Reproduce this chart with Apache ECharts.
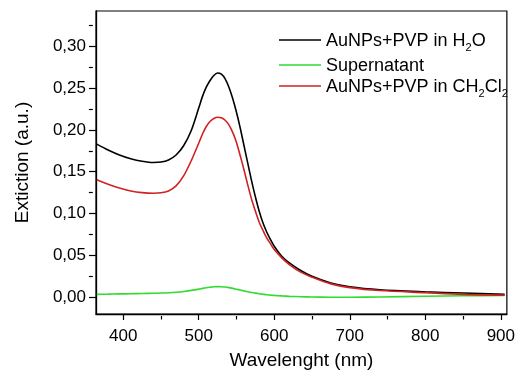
<!DOCTYPE html>
<html>
<head>
<meta charset="utf-8">
<script src="https://cdn.jsdelivr.net/npm/echarts@6/dist/echarts.min.js"></script>
<style>
html,body{margin:0;padding:0;background:#fff;}
#chart{width:518px;height:375px;}
</style>
</head>
<body>
<div id="chart"></div>
<script>
// Wavelengths (nm)
const wavelengths = [365,380,395,410,425,440,450,460,470,480,490,500,505,510,515,520,525,530,535,540,545,550,555,560,565,570,575,580,585,590,595,600,610,620,635,650,675,700,740,800,850,905];
// AuNPs+PVP in H2O
const h2o = [0.183,0.176,0.170,0.1655,0.1625,0.161,0.1615,0.164,0.170,0.181,0.199,0.226,0.240,0.251,0.259,0.265,0.268,0.2665,0.261,0.251,0.2375,0.221,0.202,0.181,0.160,0.139,0.120,0.103,0.089,0.078,0.069,0.061,0.049,0.041,0.032,0.025,0.017,0.0125,0.009,0.0065,0.005,0.0035];
// Supernatant
const supernatant = [0.0035,0.0037,0.004,0.0042,0.0045,0.0048,0.005,0.0054,0.006,0.0069,0.0082,0.0097,0.0106,0.0114,0.012,0.0125,0.0127,0.0126,0.0122,0.0115,0.0106,0.0096,0.0086,0.0076,0.0066,0.0057,0.0049,0.0042,0.0036,0.003,0.0026,0.0022,0.0016,0.0011,0.0006,0.0003,0.0001,0.0001,0.0003,0.0012,0.0018,0.0022];
// AuNPs+PVP in CH2Cl2
const ch2cl2 = [0.1405,0.135,0.1305,0.127,0.125,0.1243,0.1248,0.127,0.133,0.145,0.163,0.184,0.195,0.204,0.210,0.2135,0.215,0.2145,0.2115,0.206,0.197,0.185,0.169,0.152,0.134,0.117,0.103,0.090,0.080,0.071,0.064,0.057,0.047,0.039,0.030,0.024,0.016,0.0115,0.008,0.0055,0.0035,0.0025];

const xTicks = [400,500,600,700,800,900];
const xMinor = [450,550,650,750,850];
const yTicks = [0,0.05,0.10,0.15,0.20,0.25,0.30];
const yMinor = [0.025,0.075,0.125,0.175,0.225,0.275,0.325];

const seriesNames = ['AuNPs+PVP in H2O','Supernatant','AuNPs+PVP in CH2Cl2'];
const seriesColors = ['#000000','#2fdc2f','#d02222'];
const legendLabels = {
  'AuNPs+PVP in H2O': '{n|AuNPs+PVP in H}{s|2}{n|O}',
  'Supernatant': '{n|Supernatant}',
  'AuNPs+PVP in CH2Cl2': '{n|AuNPs+PVP in CH}{s|2}{n|Cl}{s|2}'
};

const FONT = '"Liberation Sans", Arial, sans-serif';
const pairs = arr => wavelengths.map((w,i)=>[w,arr[i]]);
const fmt = v => v.toFixed(2).replace('.', ',');

const chart = echarts.init(document.getElementById('chart'), null, {renderer:'canvas'});

const legendRich = {
  n: {fontSize: 18, fontFamily: FONT, color: '#000', lineHeight: 20, verticalAlign: 'bottom'},
  s: {fontSize: 11, fontFamily: FONT, color: '#000', lineHeight: 20, verticalAlign: 'bottom', padding: [0,0,-3,0]}
};
const legendTops = [32, 57, 78];
const legends = seriesNames.map((name, i) => ({
  data: [{name: name, icon: 'rect', itemStyle: {color: seriesColors[i]}}],
  left: 279,
  top: legendTops[i],
  orient: 'vertical',
  itemWidth: 42,
  itemHeight: 1.6,
  padding: 0,
  selectedMode: false,
  formatter: n => legendLabels[n],
  textStyle: {rich: legendRich, fontFamily: FONT, fontSize: 18}
}));

const gridBox = {left: 96, top: 11, right: 8, bottom: 59};
const gridHeight = 375 - gridBox.top - gridBox.bottom;
const gridWidth = 518 - gridBox.left - gridBox.right;

chart.setOption({
  animation: false,
  backgroundColor: '#fff',
  legend: legends,
  grid: [Object.assign({show: true, borderColor: '#000', borderWidth: 1.2, backgroundColor: 'transparent'}, gridBox)],
  xAxis: [{
    type: 'value', min: 364, max: 908, position: 'bottom',
    name: 'Wavelenght (nm)', nameLocation: 'middle', nameGap: 37,
    nameTextStyle: {fontSize: 19, fontFamily: FONT, color: '#000'},
    axisLine: {show: true, onZero: false, lineStyle: {color: '#000', width: 1.3}},
    axisTick: {show: true, inside: false, length: 6, customValues: xTicks, lineStyle: {color: '#000', width: 1.2}},
    axisLabel: {customValues: xTicks, fontSize: 17, fontFamily: FONT, color: '#000', margin: 14},
    splitLine: {show: false}
  }, {
    // minor ticks: a top axis shifted down onto the bottom edge
    type: 'value', min: 364, max: 908, position: 'top', offset: -gridHeight,
    axisLine: {show: false, onZero: false},
    axisTick: {show: true, inside: true, length: 3.5, customValues: xMinor, lineStyle: {color: '#000', width: 1.2}},
    axisLabel: {show: false},
    splitLine: {show: false}
  }],
  yAxis: [{
    type: 'value', min: -0.02, max: 0.342, position: 'left',
    name: 'Extiction (a.u.)', nameLocation: 'middle', nameGap: 64,
    nameTextStyle: {fontSize: 19, fontFamily: FONT, color: '#000'},
    axisLine: {show: true, onZero: false, lineStyle: {color: '#000', width: 1.3}},
    axisTick: {show: true, inside: false, length: 7, customValues: yTicks, lineStyle: {color: '#000', width: 1.2}},
    axisLabel: {customValues: yTicks, formatter: fmt, fontSize: 17, fontFamily: FONT, color: '#000', margin: 10},
    splitLine: {show: false}
  }, {
    // minor ticks: a right axis shifted left onto the left edge
    type: 'value', min: -0.02, max: 0.342, position: 'right', offset: -gridWidth,
    axisLine: {show: false, onZero: false},
    axisTick: {show: true, inside: true, length: 4, customValues: yMinor, lineStyle: {color: '#000', width: 1.2}},
    axisLabel: {show: false},
    splitLine: {show: false}
  }],
  series: seriesNames.map((name, i) => ({
    name: name, type: 'line',
    data: pairs([h2o, supernatant, ch2cl2][i]),
    smooth: 0.3, showSymbol: false, symbol: 'none',
    lineStyle: {color: seriesColors[i], width: 1.6},
    itemStyle: {color: seriesColors[i]},
    z: [3, 2, 4][i]
  }))
});
</script>
</body>
</html>
